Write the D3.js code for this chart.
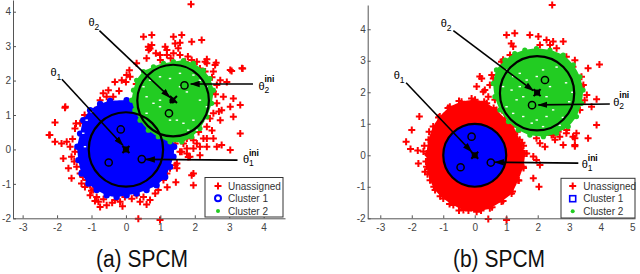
<!DOCTYPE html>
<html>
<head>
<meta charset="utf-8">
<script src="https://cdn.jsdelivr.net/npm/d3@7"></script>
<style>
body { margin: 0; background: #fff; }
svg { display: block; font-family: "Liberation Sans", Arial, sans-serif; }
</style>
</head>
<body>
<svg id="chart" width="640" height="274"></svg>
<script>
// ---- data (data units) ----
var xTicksA = [-3, -2, -1, 0, 1, 2, 3, 4];
var yTicksA = [-2, -1, 0, 1, 2, 3, 4];
var xTicksB = [-3, -2, -1, 0, 1, 2, 3, 4, 5];
var yTicksB = [-2, -1, 0, 1, 2, 3, 4];
var legendNames = ["Unassigned", "Cluster 1", "Cluster 2"];
var captions = ["(a) SPCM", "(b) SPCM"];

// unassigned points, panel (a)
var redA = [[1.89,4.22],[0.51,3.27],[0.75,3.32],[1.38,3.27],[1.62,3.32],[1.91,3.13],[2.20,3.18],[1.57,3.10],
  [1.14,2.98],[1.19,2.89],[0.70,2.93],[0.75,3.03],[0.87,2.79],[0.99,2.74],[1.19,2.74],[1.38,2.79],[1.57,2.74],
  [1.72,2.55],[1.91,2.60],[2.06,2.55],[2.15,2.35],[2.35,2.50],[2.59,2.45],[2.30,2.55],[3.03,2.31],[3.37,2.36],
  [2.54,2.26],[2.74,2.01],[2.93,1.96],[2.64,1.87],[2.40,1.77],[2.54,1.68],[2.83,1.53],[3.12,1.48],[3.32,1.29],
  [3.03,1.24],[2.64,1.34],[2.78,1.14],[2.54,1.05],[2.44,0.90],[2.74,0.85],[3.12,0.95],[2.35,0.66],[2.11,0.51],
  [2.25,0.32],[1.96,0.27],[1.77,0.32],[1.62,0.27],[1.96,0.03],[2.15,0.08],[2.35,0.08],[2.64,0.08],[1.77,-0.12],
  [1.62,-0.07],[1.86,-0.21],[2.15,-0.17],[3.32,0.46],[1.96,-0.70],[1.96,-1.04],[1.48,-0.41],[1.48,-0.55],
  [1.43,0.17],[1.67,0.17],[1.57,-0.07],[1.81,-0.22],[2.06,0.17],[2.35,0.32],[1.77,0.03],[2.54,0.32],[2.78,0.13],
  [3.03,-0.02],[1.91,-0.75],[1.19,0.56],[1.33,0.71],[1.09,0.37],
  [0.02,2.16],[-0.12,2.01],[0.00,1.96],[0.12,2.11],[-0.32,1.96],[-0.51,1.72],[-0.66,1.63],[-0.75,1.43],
  [-0.56,1.53],[-0.37,1.53],[-0.46,1.38],[-0.75,1.14],[-0.95,1.00],[-0.90,1.14],[-1.14,0.66],[-1.33,0.76],
  [-1.48,0.61],[-1.76,1.24],[-2.21,0.42],[-2.06,0.22],[-1.87,0.17],[-1.72,0.22],[-1.62,0.08],[-1.82,-0.26],
  [-1.58,-0.21],[-1.48,-0.07],[-1.33,-0.07],[-1.43,-0.50],[-1.67,-0.55],[-1.58,-0.84],[-1.33,-0.70],
  [-1.29,-0.99],[-1.19,-1.09],[-1.04,-1.04],[-0.95,-1.18],[-0.85,-1.38],[-0.80,-1.52],[-0.56,-1.62],
  [-0.75,-1.67],[-0.32,-1.47],[-0.17,-1.52],[-0.03,-1.38],[0.17,-1.43],[0.31,-1.33],[0.41,-1.52],[0.51,-1.38],
  [0.70,-1.47],[0.85,-1.28],[0.94,-1.18],[1.09,-0.89],[1.19,-0.70],[1.28,-0.55],[1.43,-0.46],[0.36,-2.01],
  [0.99,-2.05],[-1.04,-1.33],[-1.14,-0.89],[-2.06,0.78],[-2.23,0.42],[-1.77,1.21],[0.31,2.50],[0.60,2.65],
  [0.65,2.98],[0.66,2.89],[1.43,3.08],[1.52,2.94],[2.62,2.52],[2.35,2.62],[2.30,2.26],[3.07,2.28],[3.39,2.35],
  [-1.00,-1.20],[-0.65,-1.45],[-0.40,-1.55],[-1.25,-0.80],[-1.50,-0.35],[-1.55,0.30],[-1.45,0.75],[-1.20,1.00],
  [-0.20,1.70],[0.30,1.90],[0.10,2.30],[1.00,2.60],[1.30,2.65],[1.80,2.70],[2.50,2.10],[2.60,1.60],[2.70,1.10],
  [2.50,0.55],[1.45,-0.95],[1.20,-1.10],[0.60,-1.60],[-0.10,-1.65],[-0.90,-1.50]];

// dense cluster outlines and texture, panel (a)
var blueEdgeA = [[0.02,1.43],[-0.46,1.41],[-0.75,1.32],[-1.04,1.14],[-1.24,0.85],[-1.33,0.46],[-1.41,0.08],
  [-1.38,-0.31],[-1.29,-0.70],[-1.09,-0.99],[-0.85,-1.18],[-0.56,-1.33],[-0.27,-1.38],[0.02,-1.33],[0.31,-1.28],
  [0.60,-1.18],[0.89,-1.04],[1.14,-0.80],[1.28,-0.50],[1.38,-0.21],[1.40,0.08],[1.33,0.37],[1.09,0.56],
  [0.80,0.76],[0.51,1.14],[0.31,1.38]];
var greenEdgeA = [[1.38,2.55],[1.09,2.50],[0.80,2.40],[0.51,2.26],[0.31,2.01],[0.22,1.72],[0.17,1.43],[0.26,1.14],
  [0.41,0.85],[0.65,0.56],[0.94,0.37],[1.28,0.22],[1.62,0.22],[1.91,0.37],[2.15,0.61],[2.35,0.95],[2.49,1.34],
  [2.54,1.72],[2.44,2.06],[2.25,2.30],[1.96,2.50],[1.67,2.58]];
var specksA = [[0.51,1.82],[0.70,2.01],[0.99,2.11],[1.28,2.06],[1.57,2.21],[1.96,2.16],[2.15,2.01],[2.35,1.82],
  [0.60,1.53],[0.80,1.34],[0.99,1.24],[1.57,1.82],[1.77,1.67],[2.15,1.43],[2.35,1.24],[1.96,0.85],[1.67,0.76],
  [1.48,0.85],[1.28,0.85],[2.06,0.56],[1.81,0.56],[2.25,0.85],[0.99,1.43],[1.19,1.63],[0.60,1.05],
  [-1.14,0.85],[-1.24,0.47],[-1.19,0.08],[-0.99,1.09]];
var ringsA = [[0, 0, 1.08], [1.37, 1.42, 1.04]];
var initA = [[-0.15,0.58],[-0.50,-0.38],[0.46,-0.28],[1.70,1.86],[1.25,1.05]];
var centersA = [[0, 0], [1.38, 1.45]];
var arrowsA = [[-1.86,2.04,-0.09,0.12],[-0.77,3.45,1.28,1.51],[3.69,1.90,1.88,1.90],[3.24,-0.31,0.58,-0.29]];
var labelsA = [[-2.19,2.13,"1",false],[-1.09,3.58,"2",false],[3.85,1.73,"2",true],[3.40,-0.40,"1",true]];

// unassigned points, panel (b)
var redB = [[2.46,4.77],[1.01,3.82],[1.27,3.87],[1.16,3.55],[1.22,3.45],[1.75,3.82],[2.02,3.77],[2.28,3.66],
  [2.49,3.61],[2.81,3.61],[2.07,3.50],[2.39,3.50],[2.60,3.40],[1.12,3.18],[0.85,2.97],[2.91,3.13],[3.18,3.02],
  [3.12,2.81],[3.60,2.76],[3.96,2.88],[3.39,2.49],[3.45,2.23],[3.56,1.91],[3.87,1.78],[3.71,1.54],[3.49,1.75],
  [3.34,1.44],[3.39,2.18],[3.87,0.96],[3.23,0.70],[3.12,0.59],[3.18,0.29],[2.91,0.70],[2.70,0.59],[2.49,0.65],
  [2.23,0.27],[2.07,0.38],[1.96,0.54],[1.86,-0.04],[1.96,-0.15],[2.07,-0.31],[1.86,-0.73],[2.04,-1.00],
  [3.60,0.54],[2.44,0.64],[2.65,0.75],[2.92,0.80],[3.18,0.54],[3.18,0.33],[2.81,0.33],[2.55,0.49],
  [0.43,-2.02],[1.01,-2.05],[0.16,2.50],[0.06,2.18],[0.32,2.07],[0.48,2.23],[0.59,2.44],[0.22,2.44],
  [0.54,2.55],[0.90,3.03],[0.27,2.02],[0.43,1.86],[0.64,1.76],[-1.76,1.23],[-2.0,0.80],[-2.18,0.43],
  [-2.04,0.20],[-1.81,0.15],[-1.63,0.12],[-1.79,-0.26],[-1.58,-0.52],[-1.48,0.01],[1.65,0.06],[1.55,0.30],
  [-0.42,-1.63],[-0.20,-1.75],[1.25,1.00],[1.10,1.20],[0.95,1.35],
  [-1.45,0.75],[-1.60,0.30],[-1.55,-0.20],[-1.50,-0.60],[-1.30,-1.00],[-1.10,-1.30],[-0.80,-1.55],
  [-0.50,-1.75],[0.20,-1.75],[0.55,-1.65],[0.90,-1.45],[1.20,-1.15],[1.40,-0.80],[1.55,-0.40],[1.50,0.40],
  [1.35,0.75],[0.60,1.50],[0.30,1.70],[-0.10,1.80],[-0.50,1.72],[-0.85,1.50],[-1.15,1.20]];
var redEdgeB = [[0.01,1.76],[0.38,1.65],[0.69,1.44],[0.96,1.17],[1.22,0.91],[1.43,0.49],[1.59,0.06],[1.54,-0.36],
  [1.38,-0.79],[1.17,-1.21],[0.85,-1.47],[0.48,-1.68],[0.06,-1.79],[-0.36,-1.74],[-0.68,-1.58],[-1.00,-1.37],
  [-1.26,-1.10],[-1.42,-0.79],[-1.53,-0.36],[-1.53,0.06],[-1.47,0.49],[-1.32,0.91],[-1.11,1.23],[-0.79,1.54],
  [-0.42,1.70]];
var greenEdgeB = [[1.96,3.39],[2.39,3.34],[2.81,3.18],[3.13,2.87],[3.34,2.49],[3.44,2.07],[3.39,1.65],[3.23,1.23],
  [2.97,0.91],[2.60,0.70],[2.18,0.59],[1.75,0.64],[1.38,0.80],[1.07,1.07],[0.80,1.44],[0.64,1.86],[0.59,2.28],
  [0.69,2.71],[0.96,3.02],[1.27,3.23],[1.59,3.34]];
var specksB = [[1.01,2.71],[1.22,2.50],[1.43,2.60],[1.65,2.39],[1.97,2.50],[2.17,2.71],[2.39,2.18],[1.17,2.07],
  [1.33,1.76],[1.54,1.86],[1.01,1.54],[1.22,1.33],[1.54,1.23],[1.97,1.12],[2.28,1.23],[2.49,1.44],[1.81,1.02],
  [2.17,0.91],[0.90,2.18],[1.43,2.18],[2.28,1.86],[2.90,2.30],[3.00,1.70],[2.80,1.20],[2.60,2.80],[3.10,2.00],
  [2.70,0.95]];
var blueDiskB = [0, 0, 1.0];
var ringsB = [[0, 0, 1.0], [1.98, 1.97, 1.18]];
var initB = [[-0.10,0.59],[-0.45,-0.38],[0.51,-0.23],[2.23,2.39],[1.82,1.59]];
var centersB = [[0, 0], [1.98, 1.99]];
var arrowsB = [[-2.18,2.30,-0.10,0.11],[-0.68,3.96,1.86,2.05],[4.29,1.63,2.02,1.60],[3.29,-0.25,0.64,-0.22]];
var labelsB = [[-2.57,2.41,"1",false],[-1.08,4.08,"2",false],[4.40,1.57,"2",true],[3.40,-0.41,"1",true]];

// ---- layout ----
var RED = "#ff0000", BLUE = "#0000ff", GREEN = "#22cc22";
var svg = d3.select("#chart");
svg.append("defs").append("marker")
    .attr("id", "head")
    .attr("markerUnits", "userSpaceOnUse")
    .attr("markerWidth", 10).attr("markerHeight", 8)
    .attr("refX", 9).attr("refY", 4)
    .attr("orient", "auto")
  .append("path")
    .attr("d", "M0,0.8L10,4L0,7.2Z")
    .attr("fill", "#000");

var panels = [
  {xd: [-3.28, 4.62], xr: [13, 285], yd: [-2, 4.34], yr: [218.3, 0], xt: xTicksA, yt: yTicksA,
   red: redA, blueEdge: blueEdgeA, greenEdge: greenEdgeA, specks: specksA, rings: ringsA, init: initA,
   centers: centersA, arrows: arrowsA, labels: labelsA, caption: captions[0], capX: 142,
   legend: {x: 205, y: 177.5, w: 78, h: 39.5, mx: 218, tx: 228, rows: [186, 198.3, 211]}, c1: "circle"},
  {xd: [-3.40, 5.09], xr: [367.7, 635], yd: [-2, 4.77], yr: [218.3, 5], xt: xTicksB, yt: yTicksB,
   red: redB, redEdge: redEdgeB, blueDisk: blueDiskB, greenEdge: greenEdgeB, specks: specksB, rings: ringsB,
   init: initB, centers: centersB, arrows: arrowsB, labels: labelsB, caption: captions[1], capX: 499,
   legend: {x: 561, y: 178.3, w: 74, h: 39.7, mx: 572.7, tx: 583.3, rows: [186, 198.7, 211.3]}, c1: "square"}
];

function cross(sel, color, w) {
  sel.attr("d", "M-3.5,0H3.5M0,-3.5V3.5").attr("stroke", color).attr("stroke-width", w).attr("fill", "none");
}

panels.forEach(function(p, i) {
  var x = d3.scaleLinear().domain(p.xd).range(p.xr);
  var y = d3.scaleLinear().domain(p.yd).range(p.yr);
  var k = x(1) - x(0);
  var g = svg.append("g");
  var line = d3.line().x(function(d) { return x(d[0]); }).y(function(d) { return y(d[1]); }).curve(d3.curveCardinalClosed.tension(0.3));

  // unassigned
  if (p.redEdge) {
    g.append("path").datum(p.redEdge).attr("d", line).attr("fill", RED);
    g.selectAll(null).data(p.redEdge).enter().append("path")
      .attr("transform", function(d) { return "translate(" + x(d[0]) + "," + y(d[1]) + ")"; })
      .call(cross, RED, 2);
  }
  g.selectAll(null).data(p.red).enter().append("path")
    .attr("transform", function(d) { return "translate(" + x(d[0]) + "," + y(d[1]) + ")"; })
    .call(cross, RED, 2);

  // cluster 1
  if (p.blueEdge) {
    g.append("path").datum(p.blueEdge).attr("d", line).attr("fill", BLUE);
    g.selectAll(null).data(p.blueEdge).enter().append("circle")
      .attr("cx", function(d) { return x(d[0]); }).attr("cy", function(d) { return y(d[1]); })
      .attr("r", 3.2).attr("fill", BLUE);
  }
  if (p.blueDisk) {
    g.append("circle").attr("cx", x(p.blueDisk[0])).attr("cy", y(p.blueDisk[1]))
      .attr("r", p.blueDisk[2] * k).attr("fill", BLUE);
  }

  // cluster 2
  g.append("path").datum(p.greenEdge).attr("d", line).attr("fill", GREEN);
  g.selectAll(null).data(p.greenEdge).enter().append("circle")
    .attr("cx", function(d) { return x(d[0]); }).attr("cy", function(d) { return y(d[1]); })
    .attr("r", 2.6).attr("fill", GREEN);
  g.selectAll(null).data(p.specks).enter().append("rect")
    .attr("x", function(d) { return x(d[0]) - 1.2; }).attr("y", function(d) { return y(d[1]) - 0.7; })
    .attr("width", 2.4).attr("height", 1.4).attr("fill", "#fff");

  // cluster rings
  g.selectAll(null).data(p.rings).enter().append("circle")
    .attr("cx", function(d) { return x(d[0]); }).attr("cy", function(d) { return y(d[1]); })
    .attr("r", function(d) { return d[2] * k; })
    .attr("fill", "none").attr("stroke", "#000").attr("stroke-width", 2.2);

  // initial centres
  g.selectAll(null).data(p.init).enter().append("circle")
    .attr("cx", function(d) { return x(d[0]); }).attr("cy", function(d) { return y(d[1]); })
    .attr("r", 3.6).attr("fill", "none").attr("stroke", "#000").attr("stroke-width", 1.5);

  // final centres
  p.centers.forEach(function(c, j) {
    var cx = x(c[0]), cy = y(c[1]);
    if (i === 0 && j === 1) {
      g.append("circle").attr("cx", cx - 1).attr("cy", cy + 1).attr("r", 3).attr("fill", "#000");
    } else {
      g.append("rect").attr("x", cx - 3).attr("y", cy - 3).attr("width", 6).attr("height", 6).attr("fill", "#000");
    }
    g.append("path").attr("transform", "translate(" + cx + "," + cy + ")")
      .attr("d", "M-3.5,-3.5L3.5,3.5M-3.5,3.5L3.5,-3.5").attr("stroke", "#000").attr("stroke-width", 2);
  });

  // arrows
  g.selectAll(null).data(p.arrows).enter().append("line")
    .attr("x1", function(d) { return x(d[0]); }).attr("y1", function(d) { return y(d[1]); })
    .attr("x2", function(d) { return x(d[2]); }).attr("y2", function(d) { return y(d[3]); })
    .attr("stroke", "#000").attr("stroke-width", 1.6).attr("marker-end", "url(#head)");

  // theta labels
  p.labels.forEach(function(d) {
    var lx = x(d[0]), ly = y(d[1]);
    g.append("text").attr("x", lx).attr("y", ly).attr("font-size", 11).attr("fill", "#000").text("θ");
    g.append("text").attr("x", lx + 6).attr("y", ly + (d[3] ? 3 : 4)).attr("font-size", 8.5).attr("fill", "#000").text(d[2]);
    if (d[3]) {
      g.append("text").attr("x", lx + 6).attr("y", ly - 7.5).attr("font-size", 8.5)
        .attr("font-weight", "bold").attr("fill", "#000").text("ini");
    }
  });

  // axes
  var fmt = function(d) { return String(d); };
  var ax = g.append("g").attr("transform", "translate(0," + p.yr[0] + ")")
    .call(d3.axisBottom(x).tickValues(p.xt).tickSize(-3).tickSizeOuter(0).tickPadding(6).tickFormat(fmt));
  var ay = g.append("g").attr("transform", "translate(" + p.xr[0] + ",0)")
    .call(d3.axisLeft(y).tickValues(p.yt).tickSize(-3).tickSizeOuter(0).tickPadding(2).tickFormat(fmt));
  [ax, ay].forEach(function(a) {
    a.selectAll("path, line").attr("stroke", "#555");
    a.selectAll("text").attr("fill", "#444").attr("font-size", 10).attr("font-family", "Liberation Sans, Arial, sans-serif");
  });

  // legend
  var L = p.legend;
  var lg = g.append("g");
  lg.append("rect").attr("x", L.x).attr("y", L.y).attr("width", L.w).attr("height", L.h)
    .attr("fill", "#fff").attr("stroke", "#333").attr("stroke-width", 1);
  lg.append("path").attr("transform", "translate(" + L.mx + "," + L.rows[0] + ")").call(cross, RED, 2);
  if (p.c1 === "circle") {
    lg.append("circle").attr("cx", L.mx).attr("cy", L.rows[1]).attr("r", 3)
      .attr("fill", "none").attr("stroke", BLUE).attr("stroke-width", 2);
  } else {
    lg.append("rect").attr("x", L.mx - 3).attr("y", L.rows[1] - 3).attr("width", 6).attr("height", 6)
      .attr("fill", "none").attr("stroke", BLUE).attr("stroke-width", 1.6);
  }
  lg.append("circle").attr("cx", L.mx).attr("cy", L.rows[2]).attr("r", 2).attr("fill", GREEN);
  lg.selectAll("text").data(legendNames).enter().append("text")
    .attr("x", L.tx).attr("y", function(d, j) { return L.rows[j] + 3.5; })
    .attr("font-size", 10).attr("fill", "#333").text(function(d) { return d; });

  // caption
  g.append("text").attr("transform", "translate(" + p.capX + ",266.5) scale(1,1.1)")
    .attr("text-anchor", "middle").attr("font-size", 21).attr("fill", "#111").text(p.caption);
});
</script>
</body>
</html>
